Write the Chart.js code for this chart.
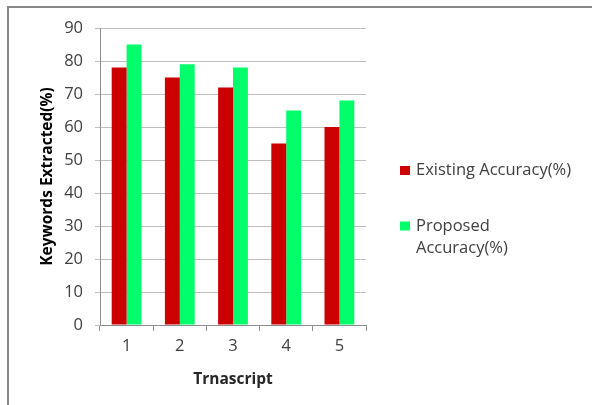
<!DOCTYPE html>
<html>
<head>
<meta charset="utf-8">
<script src="https://cdn.jsdelivr.net/npm/chart.js@4/dist/chart.umd.min.js"></script>
<style>
  html, body { margin: 0; padding: 0; background: #fff; }
  #wrap { position: relative; width: 592px; height: 405px; overflow: hidden; }
  #frame { position: absolute; left: 7px; top: 6px; right: -10px; bottom: -10px;
           border-left: 2px solid #868686; border-top: 2px solid #868686; }
  canvas { position: absolute; left: 0; top: 0; }
</style>
</head>
<body>
<div id="wrap">
  <div id="frame"></div>
  <canvas id="c" width="592" height="405"></canvas>
</div>
<script>
// Transcript numbers along the x axis
const transcripts = ['1', '2', '3', '4', '5'];
// Share of keywords extracted per transcript (%)
const existingAccuracy = [78, 75, 72, 55, 60];
const proposedAccuracy = [85, 79, 78, 65, 68];
// Series names (line breaks as shown in the legend)
const seriesLabels = ['Existing Accuracy(%)', 'Proposed\nAccuracy(%)'];
const seriesColors = ['#cc0000', '#00ff6a'];
const yTitle = 'Keywords Extracted(%)';
const xTitle = 'Trnascript';

const FONT = "'Open Sans', 'Noto Sans', sans-serif";

// Legend on the right, square swatch plus possibly wrapped text
const sideLegend = {
  id: 'sideLegend',
  afterDraw(chart) {
    const ctx = chart.ctx;
    const x0 = 400, textX = 416;
    const rowsY = [170.5, 226];
    const lineH = 22;
    ctx.save();
    ctx.font = '16.5px ' + FONT;
    ctx.textBaseline = 'middle';
    chart.data.datasets.forEach((ds, i) => {
      const lines = ds.label.split('\n');
      const y = rowsY[i];
      ctx.fillStyle = ds.backgroundColor;
      ctx.fillRect(x0, y - 4.5, 10, 9);
      ctx.fillStyle = '#404040';
      lines.forEach((ln, k) => ctx.fillText(ln, textX, y + k * lineH));
    });
    ctx.restore();
  }
};

new Chart(document.getElementById('c'), {
  type: 'bar',
  data: {
    labels: transcripts,
    datasets: [
      { label: seriesLabels[0], data: existingAccuracy, backgroundColor: seriesColors[0] },
      { label: seriesLabels[1], data: proposedAccuracy, backgroundColor: seriesColors[1] }
    ]
  },
  options: {
    responsive: false,
    animation: false,
    devicePixelRatio: 1,
    layout: { padding: { left: 38, right: 226, top: 28, bottom: 16 } },
    datasets: { bar: { categoryPercentage: 0.56, barPercentage: 1.0, borderWidth: 0 } },
    plugins: { legend: { display: false }, tooltip: { enabled: false } },
    scales: {
      x: {
        grid: { offset: true, drawOnChartArea: false, color: '#8c8c8c', tickLength: 6, lineWidth: 1 },
        border: { color: '#8c8c8c', width: 1 },
        ticks: { color: '#404040', font: { family: FONT, size: 16.5 }, padding: 5 },
        title: { display: true, text: xTitle, color: '#262626',
                 font: { family: FONT, size: 15.5, weight: 'bold' }, padding: { top: 4, bottom: 0 } },
        afterFit(scale) { scale.height = 64; }
      },
      y: {
        min: 0, max: 90,
        ticks: { stepSize: 10, color: '#404040', font: { family: FONT, size: 16.5 }, padding: 12 },
        grid: { color: '#bfbfbf', tickLength: 5, lineWidth: 1 },
        border: { color: '#8c8c8c', width: 1 },
        title: { display: true, text: yTitle, color: '#000',
                 font: { family: FONT, size: 15.5, weight: 'bold' }, padding: { top: 0, bottom: 0 } },
        afterFit(scale) { scale.width = 62; }
      }
    }
  },
  plugins: [sideLegend]
});
</script>
</body>
</html>
